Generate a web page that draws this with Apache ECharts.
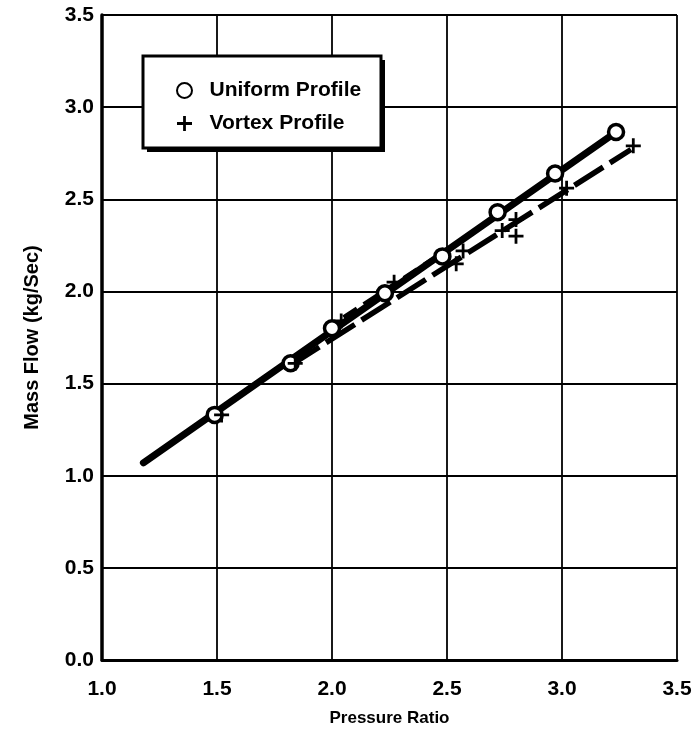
<!DOCTYPE html>
<html>
<head>
<meta charset="utf-8">
<script src="https://cdn.jsdelivr.net/npm/echarts@6/dist/echarts.min.js"></script>
<style>html,body{margin:0;padding:0;background:#fff}#c{width:695px;height:732px}</style>
</head>
<body>
<div id="c"></div>
<script>
// Data
var xTicks = [1.0, 1.5, 2.0, 2.5, 3.0, 3.5];
var yTicks = [0.0, 0.5, 1.0, 1.5, 2.0, 2.5, 3.0, 3.5];
var uniformX = [1.49, 1.82, 2.00, 2.23, 2.48, 2.72, 2.97, 3.235];
var uniformY = [1.33, 1.61, 1.80, 1.99, 2.19, 2.43, 2.64, 2.865];
var vortexX = [1.52, 1.84, 2.04, 2.27, 2.54, 2.57, 2.74, 2.80, 2.80, 3.02, 3.31];
var vortexY = [1.33, 1.61, 1.84, 2.05, 2.15, 2.22, 2.33, 2.39, 2.30, 2.56, 2.79];
var uniformFitX = [1.18, 3.235];
var uniformFitY = [1.07, 2.865];
var vortexFitX = [1.82, 3.30];
var vortexFitY = [1.60, 2.77];
var vortexUpperX = [2.05, 2.43];
var vortexUpperY = [1.86, 2.17];

function pairs(xs, ys) { return xs.map(function (x, i) { return [x, ys[i]]; }); }

var FONT = '"Liberation Sans", Arial, sans-serif';
var plusPath = 'path://M-1.3,-7 H1.3 V-1.3 H7 V1.3 H1.3 V7 H-1.3 V1.3 H-7 V-1.3 H-1.3 Z';

var chart = echarts.init(document.getElementById('c'), null, { renderer: 'canvas' });
chart.setOption({
  animation: false,
  backgroundColor: '#fff',
  grid: { left: 102, right: 18, top: 15, bottom: 66, show: false },
  xAxis: {
    type: 'value', min: 1.0, max: 3.5, interval: 0.5,
    name: 'Pressure Ratio', nameLocation: 'middle', nameGap: 50,
    nameTextStyle: { fontFamily: FONT, fontWeight: 'bold', fontSize: 17, color: '#000' },
    axisLine: { show: true, onZero: false, lineStyle: { color: '#000', width: 3 } },
    axisTick: { show: false },
    axisLabel: { fontFamily: FONT, fontWeight: 'bold', fontSize: 21, color: '#000', margin: 19,
      formatter: function (v) { return v.toFixed(1); } },
    splitLine: { show: true, lineStyle: { color: '#000', width: 1.8 } }
  },
  yAxis: {
    type: 'value', min: 0.0, max: 3.5, interval: 0.5,
    name: 'Mass Flow (kg/Sec)', nameLocation: 'middle', nameGap: 60,
    nameTextStyle: { fontFamily: FONT, fontWeight: 'bold', fontSize: 20, color: '#000' },
    axisLine: { show: true, onZero: false, lineStyle: { color: '#000', width: 3.5 } },
    axisTick: { show: false },
    axisLabel: { fontFamily: FONT, fontWeight: 'bold', fontSize: 21, color: '#000', margin: 8,
      formatter: function (v) { return v.toFixed(1); } },
    splitLine: { show: true, lineStyle: { color: '#000', width: 1.8 } }
  },
  graphic: [
    { type: 'rect', z: 50, shape: { x: 147, y: 60, width: 238, height: 92 }, style: { fill: '#000' } },
    { type: 'rect', z: 51, shape: { x: 143, y: 56, width: 238, height: 92 }, style: { fill: '#fff', stroke: '#000', lineWidth: 3 } }
  ],
  legend: {
    z: 60, orient: 'vertical', left: 171, top: 75, itemGap: 12,
    itemWidth: 40, itemHeight: 15,
    data: [
      { name: 'Uniform Profile', icon: 'circle' },
      { name: 'Vortex Profile', icon: plusPath }
    ],
    textStyle: { fontFamily: FONT, fontWeight: 'bold', fontSize: 21, color: '#000' }
  },
  series: [
    { type: 'line', name: 'uniformFit', data: pairs(uniformFitX, uniformFitY), symbol: 'none', z: 3,
      lineStyle: { color: '#000', width: 7, cap: 'round' } },
    { type: 'line', name: 'vortexFit', data: pairs(vortexFitX, vortexFitY), symbol: 'none', z: 3,
      lineStyle: { color: '#000', width: 5.5, type: [34, 8] } },
    { type: 'line', name: 'vortexUpper', data: pairs(vortexUpperX, vortexUpperY), symbol: 'none', z: 3,
      lineStyle: { color: '#000', width: 4, type: [16, 8] } },
    { type: 'scatter', name: 'Uniform Profile', data: pairs(uniformX, uniformY), symbol: 'circle', symbolSize: 15, z: 5,
      itemStyle: { color: '#fff', borderColor: '#000', borderWidth: 3.5, opacity: 1 } },
    { type: 'scatter', name: 'Vortex Profile', data: pairs(vortexX, vortexY), symbol: plusPath, symbolSize: 15, z: 6,
      itemStyle: { color: '#000', opacity: 1 } }
  ]
});
</script>
</body>
</html>
